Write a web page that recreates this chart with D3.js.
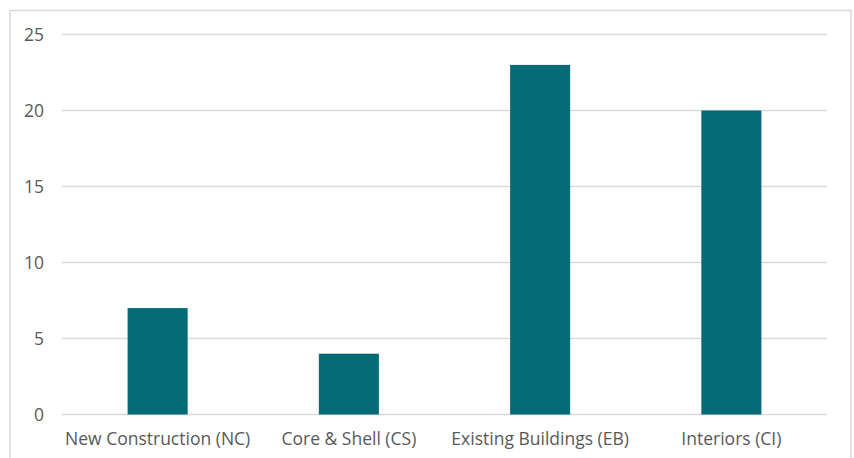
<!DOCTYPE html>
<html>
<head>
<meta charset="utf-8">
<script src="https://cdn.jsdelivr.net/npm/d3@7"></script>
<style>
  html, body { margin: 0; padding: 0; background: #fff; }
  svg { display: block; }
</style>
</head>
<body>
<svg id="chart" width="854" height="458"></svg>
<script>
// LEED rating system counts
const categories = ["New Construction (NC)", "Core & Shell (CS)", "Existing Buildings (EB)", "Interiors (CI)"];
const values = [7, 4, 23, 20];
const yTicks = [0, 5, 10, 15, 20, 25];

const svg = d3.select("#chart");
const W = 854, H = 458;
const margin = { left: 62, right: 27, top: 34.5, bottom: 43.5 };

// outer frame
svg.append("rect")
  .attr("x", 10).attr("y", 10.5)
  .attr("width", 841).attr("height", 460)
  .attr("fill", "#fff")
  .attr("stroke", "#d9d9d9").attr("stroke-width", 1.5);

const x = d3.scaleBand()
  .domain(categories)
  .range([margin.left, W - margin.right])
  .paddingInner(0.686)
  .paddingOuter(0.343);

const y = d3.scaleLinear()
  .domain([0, 25])
  .range([H - margin.bottom, margin.top]);

// gridlines
svg.append("g")
  .selectAll("line")
  .data(yTicks)
  .join("line")
  .attr("x1", margin.left).attr("x2", W - margin.right)
  .attr("y1", d => y(d)).attr("y2", d => y(d))
  .attr("stroke", "#d9d9d9").attr("stroke-width", 1.3);

// bars
svg.append("g")
  .selectAll("rect")
  .data(values)
  .join("rect")
  .attr("x", (d, i) => x(categories[i]))
  .attr("width", x.bandwidth())
  .attr("y", d => y(d))
  .attr("height", d => y(0) - y(d))
  .attr("fill", "#056b76");

const font = "'Open Sans', 'Noto Sans', sans-serif";

// y-axis labels
const yAxis = d3.axisLeft(y).tickValues(yTicks).tickSize(0).tickPadding(18);
const gy = svg.append("g")
  .attr("transform", `translate(${margin.left},0)`)
  .call(yAxis);
gy.select(".domain").remove();
gy.selectAll("text")
  .attr("fill", "#595959")
  .style("font-family", font)
  .style("font-size", "17.5px");

// x-axis labels
const xAxis = d3.axisBottom(x).tickSize(0).tickPadding(18);
const gx = svg.append("g")
  .attr("transform", `translate(0,${y(0)})`)
  .call(xAxis);
gx.select(".domain").remove();
gx.selectAll("text")
  .attr("fill", "#595959")
  .style("font-family", font)
  .style("font-size", "17.5px");
</script>
</body>
</html>
